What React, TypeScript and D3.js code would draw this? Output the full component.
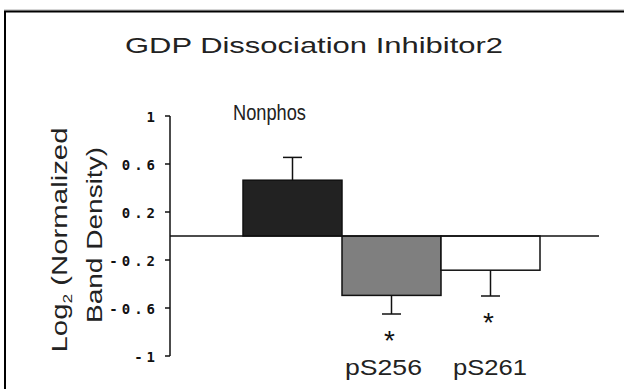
import React from "react";
import * as d3 from "d3";

// Groups and their mean log2 values with error magnitudes
const categories = ["Nonphos", "pS256", "pS261"];
const means = [0.465, -0.495, -0.285];
const errors = [0.19, 0.155, 0.215];
const significant = [false, true, true];
const tickValues = [1, 0.6, 0.2, -0.2, -0.6, -1];
const tickLabels = ["1", "0.6", "0.2", "-0.2", "-0.6", "-1"];
const barFills = ["#222222", "#7f7f7f", "#ffffff"];

const W = 624;
const H = 389;

export default function App() {
  const y = d3.scaleLinear().domain([-1, 1]).range([356, 116]);
  const x = d3.scaleBand<string>().domain(categories).range([243, 540]).padding(0);
  const axisX = 170;
  const bw = x.bandwidth();
  const font = "'Liberation Sans', Arial, sans-serif";

  // category label placement: first label sits above the plot, the rest below
  const labelPos = [
    { x: 269.5, y: 120, len: 73 },
    { x: x(categories[1])! + bw / 2 - 8, y: 375, len: 77 },
    { x: x(categories[2])! + bw / 2 - 0.5, y: 375, len: 74 },
  ];

  return (
    <svg
      width={W}
      height={H}
      style={{ position: "absolute", left: 0, top: 0, background: "#fff" }}
    >
      {/* outer frame */}
      <line x1={4} y1={10} x2={W} y2={10} stroke="#aaa" strokeWidth={1} />
      <rect x={5} y={11.5} width={W + 20} height={H + 20} fill="none" stroke="#000" strokeWidth={2} />

      <text
        x={314}
        y={53}
        textAnchor="middle"
        fontFamily={font}
        fontSize={22}
        textLength={378}
        lengthAdjust="spacingAndGlyphs"
        fill="#222"
      >
        GDP Dissociation Inhibitor2
      </text>

      {/* y axis title */}
      <g fontFamily={font} fontSize={22} fill="#222">
        <text
          transform={`translate(67,240) rotate(-90)`}
          textAnchor="middle"
          textLength={225}
          lengthAdjust="spacingAndGlyphs"
        >
          Log<tspan fontSize={13} dy={5}>2</tspan>
          <tspan dy={-5}> (Normalized</tspan>
        </text>
        <text
          transform={`translate(102,235) rotate(-90)`}
          textAnchor="middle"
          textLength={176}
          lengthAdjust="spacingAndGlyphs"
        >
          Band Density)
        </text>
      </g>

      {/* y axis */}
      <line x1={axisX} x2={axisX} y1={y(1)} y2={y(-1)} stroke="#111" strokeWidth={1.5} />
      {tickValues.map((v, i) => (
        <g key={v}>
          <line x1={axisX - 5} x2={axisX} y1={y(v)} y2={y(v)} stroke="#111" strokeWidth={1.5} />
          <text
            x={159}
            y={y(v) + 6}
            textAnchor="end"
            fontFamily="'DejaVu Sans Mono', monospace"
            fontWeight="bold"
            fontSize={14}
            letterSpacing={4}
            fill="#111"
          >
            {tickLabels[i]}
          </text>
        </g>
      ))}

      {/* bars */}
      {categories.map((c, i) => {
        const x0 = x(c)!;
        const top = y(Math.max(0, means[i]));
        const bot = y(Math.min(0, means[i]));
        const cx = x0 + bw / 2;
        const end = means[i] + Math.sign(means[i]) * errors[i];
        return (
          <g key={c}>
            <line x1={cx} x2={cx} y1={y(means[i])} y2={y(end)} stroke="#111" strokeWidth={1.5} />
            <line x1={cx - 9.5} x2={cx + 9.5} y1={y(end)} y2={y(end)} stroke="#111" strokeWidth={1.5} />
            <rect x={x0} y={top} width={bw} height={bot - top} fill={barFills[i]} stroke="#111" strokeWidth={1.5} />
            {significant[i] && (
              <text x={cx - 2} y={y(end) + 36} textAnchor="middle" fontFamily={font} fontSize={28} fill="#111">
                *
              </text>
            )}
          </g>
        );
      })}

      {/* baseline at zero */}
      <line x1={axisX} x2={599} y1={y(0)} y2={y(0)} stroke="#111" strokeWidth={1.5} />

      {/* category labels */}
      <g fontFamily={font} fontSize={22} fill="#222">
        {categories.map((c, i) => (
          <text
            key={c}
            x={labelPos[i].x}
            y={labelPos[i].y}
            textAnchor="middle"
            textLength={labelPos[i].len}
            lengthAdjust="spacingAndGlyphs"
          >
            {c}
          </text>
        ))}
      </g>
    </svg>
  );
}
